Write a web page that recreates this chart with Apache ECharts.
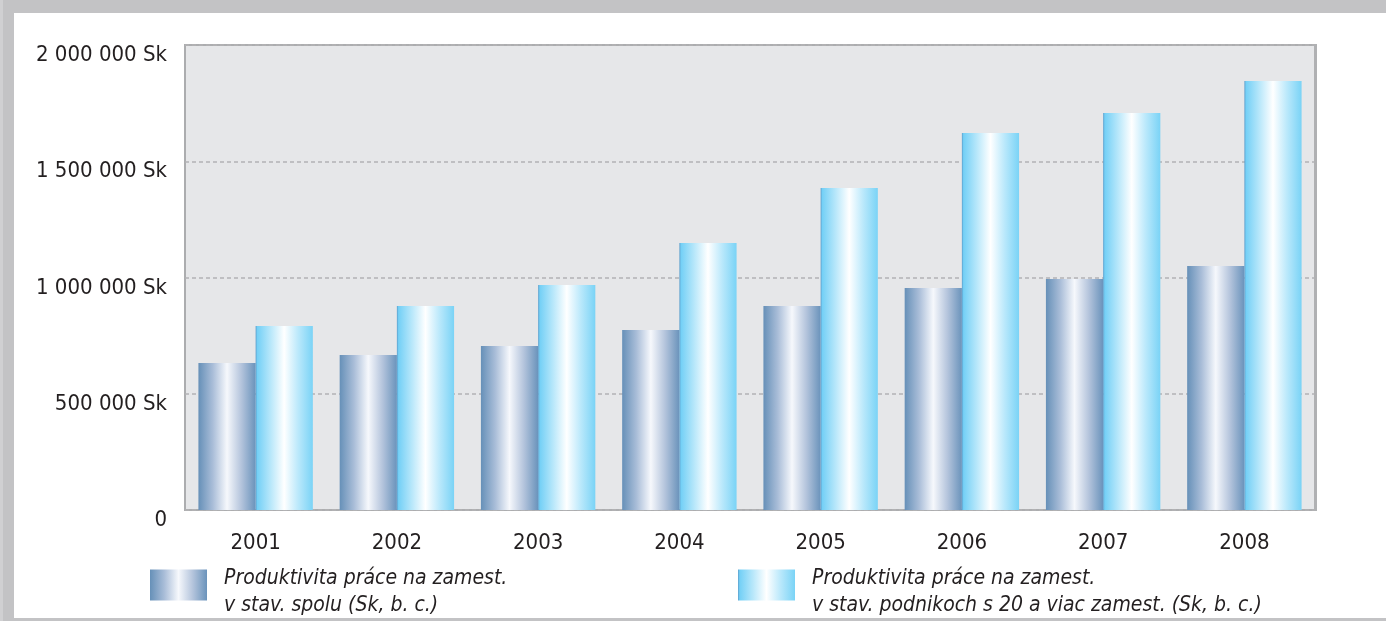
<!DOCTYPE html>
<html>
<head>
<meta charset="utf-8">
<script src="https://cdn.jsdelivr.net/npm/echarts@6/dist/echarts.min.js"></script>
<style>
  html, body { margin: 0; padding: 0; background: #fff; }
  #chart { width: 1386px; height: 621px; }
</style>
</head>
<body>
<div id="chart"></div>
<script>
// data
var years = ['2001', '2002', '2003', '2004', '2005', '2006', '2007', '2008'];
var spolu = [632000, 667000, 705000, 774000, 877000, 955000, 994000, 1049000];
var podniky20 = [791000, 877000, 968000, 1148000, 1385000, 1622000, 1708000, 1845000];
var yTicks = [0, 500000, 1000000, 1500000, 2000000];
var seriesNames = ['Produktivita práce na zamest. v stav. spolu (Sk, b. c.)',
  'Produktivita práce na zamest. v stav. podnikoch s 20 a viac zamest. (Sk, b. c.)'];
var legendLines = {};
legendLines[seriesNames[0]] = ['Produktivita práce na zamest.', 'v stav. spolu (Sk, b. c.)'];
legendLines[seriesNames[1]] = ['Produktivita práce na zamest.', 'v stav. podnikoch s 20 a viac zamest. (Sk, b. c.)'];

var font = '"Liberation Sans Narrow", "DejaVu Sans Condensed", "Liberation Sans", sans-serif';

function fmtSk(v) {
  if (v == 0) return '0';
  var s = String(v).replace(/\B(?=(\d{3})+(?!\d))/g, ' ');
  return s + ' Sk';
}

// metallic gradients of the bars
var darkBar = new echarts.graphic.LinearGradient(0, 0, 1, 0, [
  { offset: 0, color: '#6690b8' },
  { offset: 0.25, color: '#a9bdd8' },
  { offset: 0.5, color: '#f6f8fc' },
  { offset: 0.75, color: '#b4c4dc' },
  { offset: 1, color: '#6a93bb' }
]);
var lightBar = new echarts.graphic.LinearGradient(0, 0, 1, 0, [
  { offset: 0, color: '#5d9fcc' },
  { offset: 0.03, color: '#74d0f6' },
  { offset: 0.25, color: '#b4e6fa' },
  { offset: 0.5, color: '#ffffff' },
  { offset: 0.75, color: '#b9e8fb' },
  { offset: 1, color: '#7ad3f6' }
]);

// spacer line on top pushes the two text lines a bit below the swatch centre
var legendText = {
  fontFamily: font, fontSize: 21, fontStyle: 'italic', color: '#231f20',
  padding: [0, 0, 0, 12],
  rich: {
    s: { fontSize: 4, lineHeight: 14 },
    t: { fontFamily: font, fontSize: 21, fontStyle: 'italic', color: '#231f20', lineHeight: 27 }
  }
};
function legendFmt(name) {
  var l = legendLines[name];
  return '{s| }\n{t|' + l[0] + '}\n{t|' + l[1] + '}';
}

var myChart = echarts.init(document.getElementById('chart'));
var option = {
  animation: false,
  backgroundColor: '#ffffff',
  graphic: [
    { type: 'rect', shape: { x: 0, y: 0, width: 1386, height: 13 }, style: { fill: '#c3c3c5' } },
    { type: 'rect', shape: { x: 0, y: 0, width: 3, height: 621 }, style: { fill: '#d0d0d2' } },
    { type: 'rect', shape: { x: 3, y: 0, width: 11, height: 621 }, style: { fill: '#c3c3c5' } },
    { type: 'rect', shape: { x: 14, y: 618, width: 1372, height: 3 }, style: { fill: '#c3c3c5' } },
    { type: 'rect', shape: { x: 1314, y: 44, width: 3, height: 467 }, style: { fill: '#b0b1b3' }, z: 10 }
  ],
  grid: {
    left: 185,
    right: 71,
    top: 45,
    bottom: 111,
    show: true,
    backgroundColor: '#e6e7e9',
    borderColor: '#acadaf',
    borderWidth: 2
  },
  legend: [{
    data: [seriesNames[0]],
    left: 150,
    top: 556,
    padding: 0,
    itemWidth: 57,
    itemHeight: 31,
    icon: 'rect',
    formatter: legendFmt,
    textStyle: legendText
  }, {
    data: [seriesNames[1]],
    left: 738,
    top: 556,
    padding: 0,
    itemWidth: 57,
    itemHeight: 31,
    icon: 'rect',
    formatter: legendFmt,
    textStyle: legendText
  }],
  xAxis: {
    type: 'category',
    data: years,
    axisLine: { show: false },
    axisTick: { show: false },
    axisLabel: { fontFamily: font, fontSize: 22, color: '#231f20', margin: 22 }
  },
  yAxis: {
    type: 'value',
    min: 0,
    max: 2000000,
    interval: 500000,
    axisLine: { show: false },
    axisTick: { show: false },
    splitLine: { lineStyle: { color: '#b3b3b5', width: 1.5, type: [4, 3] } },
    axisLabel: {
      fontFamily: font, fontSize: 22, color: '#231f20', margin: 18,
      verticalAlign: 'top', lineHeight: 21,
      formatter: function(v) { return yTicks.indexOf(v) >= 0 ? fmtSk(v) : ''; }
    }
  },
  series: [{
    name: seriesNames[0],
    type: 'bar',
    data: spolu,
    barGap: '0%',
    barCategoryGap: '19%',
    itemStyle: { color: darkBar }
  }, {
    name: seriesNames[1],
    type: 'bar',
    data: podniky20,
    barGap: '0%',
    barCategoryGap: '19%',
    itemStyle: { color: lightBar }
  }]
};
myChart.setOption(option);
</script>
</body>
</html>
